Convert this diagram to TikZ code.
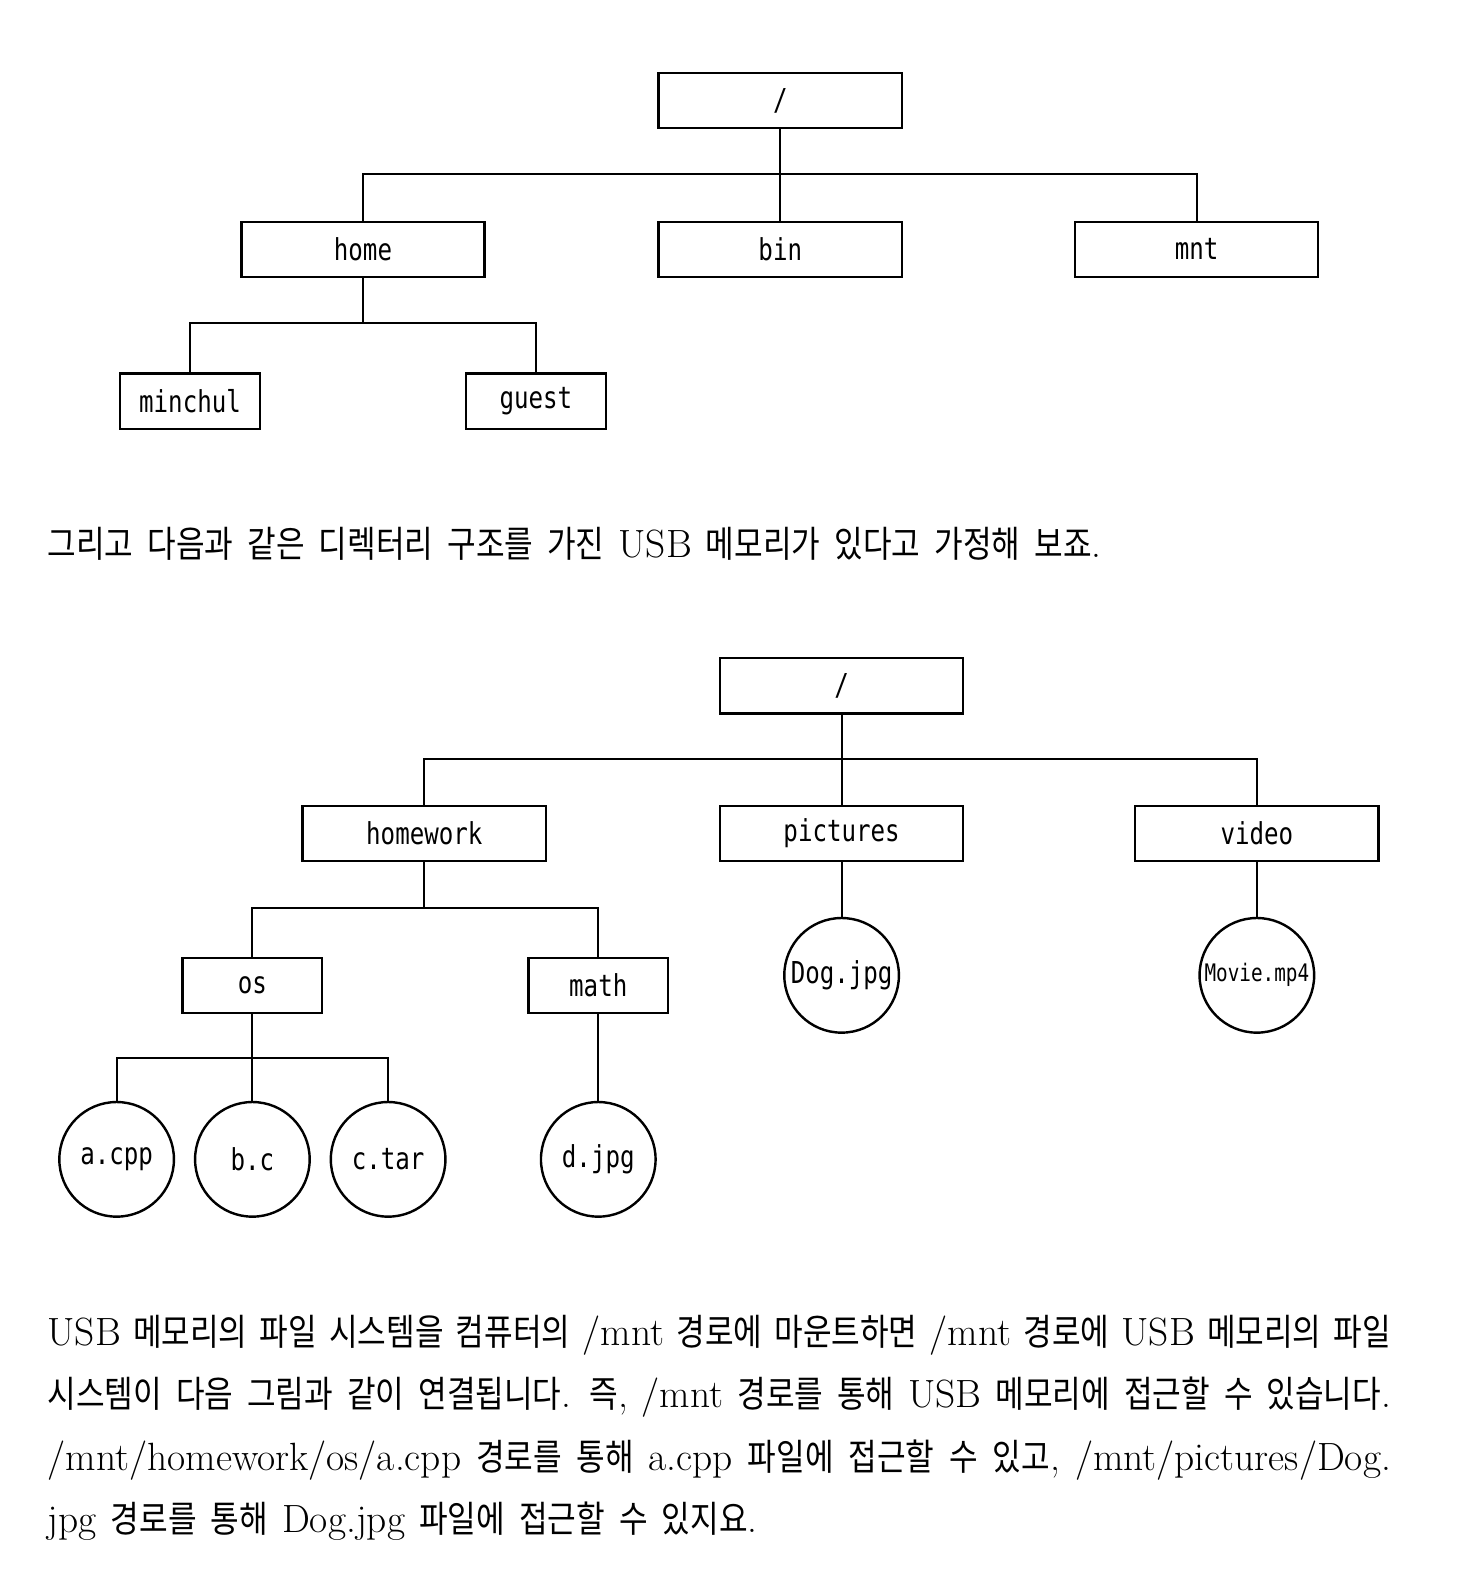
\documentclass[tikz,border=0pt]{standalone}
\usepackage{fontspec}
\setmainfont{Latin Modern Roman}
\newfontfamily\krfont[FakeStretch=0.85]{Noto Sans CJK KR}
\newfontfamily\handfont[FakeStretch=0.8]{DejaVu Sans Mono}
\newcommand{\kor}[1]{{\krfont\fontsize{18.2}{31}\selectfont #1}}

\begin{document}
\begin{tikzpicture}[x=0.5pt,y=-0.5pt,
  dir/.style={draw,line width=1.2pt,minimum width=121pt,minimum height=27.5pt,
    inner sep=0pt,font=\handfont\fontsize{15}{18}\selectfont},
  subdir/.style={dir,minimum width=69.5pt},
  file/.style={draw,circle,line width=1.2pt,minimum size=57pt,
    inner sep=0pt,font=\handfont\fontsize{15}{18}\selectfont},
  link/.style={line width=1pt},
  body/.style={anchor=base west,inner sep=0pt,font=\fontsize{19.6}{31}\selectfont}]
  \fill[white] (0,0) rectangle (1470,1567.4);
  \useasboundingbox (0,0) rectangle (1470,1567.4);
  \node[dir] (root) at (776,100) {/};
  \node[dir] (home) at (361,248) {home};
  \node[dir] (bin) at (776,248) {bin};
  \node[dir] (mnt) at (1190,248) {mnt};
  \node[subdir] (minchul) at (189,399) {minchul};
  \node[subdir] (guest) at (533,399) {guest};
  \coordinate (rootbus) at (776,173);
  \coordinate (homebus) at (361,321);
  \draw[link] (root) -- (rootbus);
  \draw[link] (rootbus) -| (home.north);
  \draw[link] (rootbus) -- (bin.north);
  \draw[link] (rootbus) -| (mnt.north);
  \draw[link] (home) -- (homebus);
  \draw[link] (homebus) -| (minchul.north);
  \draw[link] (homebus) -| (guest.north);
  \node[body] (intro) at (47,554) {\spaceskip=7pt
    \kor{그리고 다음과 같은 디렉터리 구조를 가진} USB \kor{메모리가 있다고 가정해 보죠}.};
  \node[dir] (usbroot) at (837,682) {/};
  \node[dir] (homework) at (422,829) {homework};
  \node[dir] (pictures) at (837,829) {pictures};
  \node[dir] (video) at (1250,829) {video};
  \node[subdir] (os) at (251,980) {os};
  \node[subdir] (math) at (595,980) {math};
  \node[file] (acpp) at (116,1153) {a.cpp};
  \node[file] (bc) at (251,1153) {b.c};
  \node[file] (ctar) at (386,1153) {c.tar};
  \node[file] (djpg) at (595,1153) {d.jpg};
  \node[file] (dog) at (837,970) {Dog.jpg};
  \node[file,font=\handfont\fontsize{12}{14}\selectfont] (movie) at (1250,970) {Movie.mp4};
  \coordinate (usbbus) at (837,755);
  \coordinate (hwbus) at (422,903);
  \coordinate (osbus) at (251,1052);
  \draw[link] (usbroot) -- (usbbus);
  \draw[link] (usbbus) -| (homework.north);
  \draw[link] (usbbus) -- (pictures.north);
  \draw[link] (usbbus) -| (video.north);
  \draw[link] (homework) -- (hwbus);
  \draw[link] (hwbus) -| (os.north);
  \draw[link] (hwbus) -| (math.north);
  \draw[link] (os) -- (osbus);
  \draw[link] (osbus) -| (acpp.north);
  \draw[link] (osbus) -- (bc.north);
  \draw[link] (osbus) -| (ctar.north);
  \draw[link] (math) -- (djpg);
  \draw[link] (pictures) -- (dog);
  \draw[link] (video) -- (movie);
  \node[body,text width=668pt,align=justify] (mount) at (47,1338) {%
    \spaceskip=7pt plus 8pt minus 2.5pt\hyphenpenalty=10000\tolerance=9999
    USB \kor{메모리의 파일 시스템을 컴퓨터의} /mnt \kor{경로에 마운트하면} /mnt
    \kor{경로에} USB \kor{메모리의 파일}\linebreak
    \kor{시스템이 다음 그림과 같이 연결됩니다}. \kor{즉}, /mnt \kor{경로를 통해}
    USB \kor{메모리에 접근할 수 있습니다}.\linebreak
    /mnt/homework/os/a.cpp \kor{경로를 통해} a.cpp \kor{파일에 접근할 수 있고},
    /mnt/pictures/Dog.\linebreak
    jpg \kor{경로를 통해} Dog.jpg \kor{파일에 접근할 수 있지요}.};
\end{tikzpicture}
\end{document}
